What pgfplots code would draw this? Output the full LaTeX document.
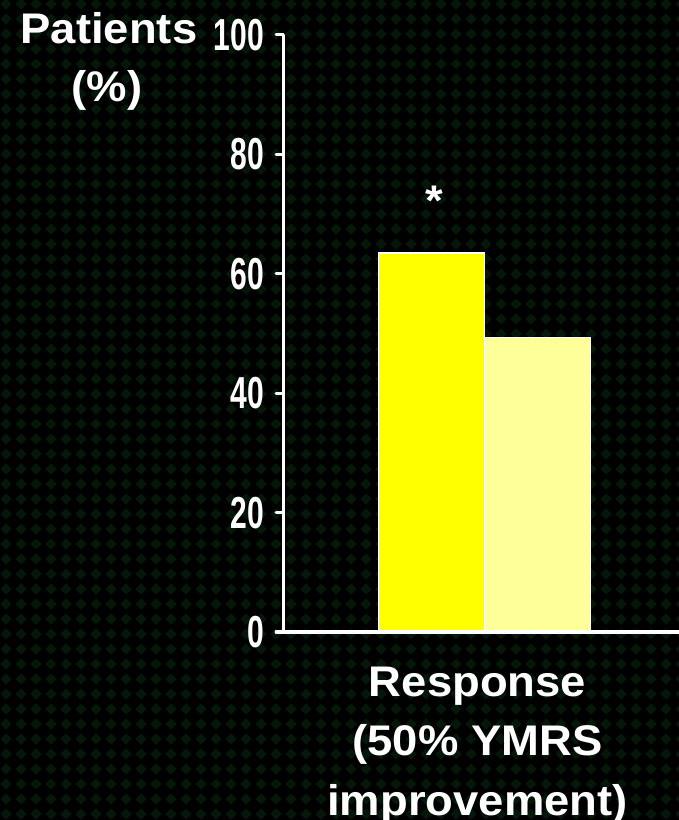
\documentclass[border=0pt]{standalone}
\usepackage{fontspec}
\setmainfont{Liberation Sans}
\usepackage{pgfplots}
\pgfplotsset{compat=1.18}
\usetikzlibrary{patterns}
\definecolor{bgdiamond}{HTML}{051709}
\definecolor{barA}{HTML}{FFFF00}
\definecolor{barB}{HTML}{FFFF99}
\pgfdeclarepatternformonly{diamonds}{\pgfqpoint{0bp}{0bp}}{\pgfqpoint{15bp}{15bp}}{\pgfqpoint{15bp}{15bp}}{%
  \pgfpathmoveto{\pgfqpoint{1.5bp}{7.5bp}}\pgfpathlineto{\pgfqpoint{7.5bp}{13.5bp}}\pgfpathlineto{\pgfqpoint{13.5bp}{7.5bp}}\pgfpathlineto{\pgfqpoint{7.5bp}{1.5bp}}\pgfpathclose
  \pgfusepath{fill}}
\newcommand{\lab}{\fontsize{43}{59.5}\selectfont\bfseries}
\begin{document}
\begin{tikzpicture}
\useasboundingbox (0bp,0bp) rectangle (679bp,820bp);
\fill[black] (0bp,0bp) rectangle (679bp,820bp);
\fill[pattern=diamonds, pattern color=bgdiamond] (0bp,0bp) rectangle (679bp,820bp);
\node[anchor=base, text=white, font=\lab, inner sep=0pt] at (109bp,776bp) {\scalebox{1.06}[1]{Patients}};
\node[anchor=base, text=white, font=\lab, inner sep=0pt] at (107bp,718bp) {\scalebox{1.06}[1]{(\%)}};
\begin{axis}[
  at={(283bp,188bp)}, anchor=south west,
  scale only axis, width=396bp, height=597bp,
  xmin=0, xmax=1.9653, ymin=0, ymax=100,
  axis lines=left,
  axis line style={-, white, line width=3bp, line cap=round},
  x axis line style={line width=4.5bp},
  ytick={0,20,40,60,80,100},
  yticklabels={\scalebox{0.67}[1]{0},\scalebox{0.67}[1]{20},\scalebox{0.67}[1]{40},\scalebox{0.67}[1]{60},\scalebox{0.67}[1]{80},\scalebox{0.67}[1]{100}},
  tick align=outside, major tick length=7bp,
  y tick style={white, line width=3bp, line cap=round},
  xtick={1}, x tick style={draw=none},
  xticklabels={\scalebox{1.06}[1]{\begin{tabular}{@{}c@{}}Response\\(50\% YMRS\\improvement)\end{tabular}}},
  y tick label style={font=\fontsize{45}{45}\selectfont\bfseries, text=white, inner sep=0pt, xshift=-12bp},
  x tick label style={font=\lab, text=white, inner sep=0pt, yshift=-16bp, xshift=-7bp},
  ybar=0pt, bar width=106bp,
  axis on top, clip=false,
]
\addplot[fill=barA, draw=white, line width=1.2bp] coordinates {(1,63.5)};
\addplot[fill=barB, draw=white, line width=1.2bp] coordinates {(1,49.3)};
\node[anchor=base, text=white, font=\lab, inner sep=0pt, xshift=-50bp] at (axis cs:1,69.8) {\scalebox{1.06}[1]{*}};
\end{axis}
\end{tikzpicture}
\end{document}
